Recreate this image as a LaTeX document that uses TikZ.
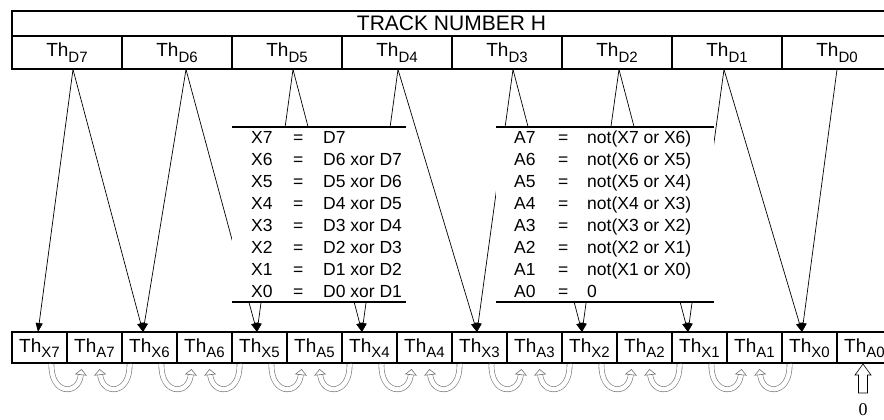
\documentclass[tikz,border=0pt]{standalone}
\usepackage{fontspec}
\setmainfont{Liberation Sans}
\newfontfamily\zeroserif{Liberation Serif}
\usetikzlibrary{arrows.meta}
\newcommand\thsub[1]{\raisebox{-0.28em}{\fontsize{15}{15}\selectfont #1}}
\begin{document}
\begin{tikzpicture}[x=1pt,y=-1pt,
  tcell/.style={draw, line width=1.8pt, inner sep=0pt, minimum width=110pt, minimum height=33pt,
    text height=14pt, text depth=5pt, font=\fontsize{19}{19}\selectfont},
  bcell/.style={draw, line width=1.8pt, inner sep=0pt, minimum width=55pt, minimum height=31pt,
    text height=14pt, text depth=5pt, font=\fontsize{19}{19}\selectfont},
  conn/.style={line width=0.7pt, -{Triangle[length=9pt,width=7pt]}},
  eq/.style={anchor=base west, inner sep=0pt, font=\fontsize{17.5}{17.5}\selectfont},
  tabline/.style={line width=2pt},
  carrow/.style={draw=black!55, line width=0.6pt, double=white, double distance=4.5pt,
    -{Triangle[open,length=6pt,width=12pt]}}]
\useasboundingbox (0,0) rectangle (884,420);

% top box
\node[draw, line width=2.5pt, inner sep=0pt, minimum width=879pt, minimum height=25pt,
  font=\fontsize{21}{21}\selectfont, text height=15pt, text depth=0pt] (title) at (451.5,23.5) {TRACK NUMBER H};
\foreach \n [count=\k from 0] in {7,...,0}
  \node[tcell] (D\n) at ({67+110*\k},52.5) {Th\thsub{D\n}};
\draw[line width=2.5pt] (12,11) rectangle (891,69);

% apexes and tips
\foreach \n/\x in {7/73,6/186,5/293,4/398,3/513,2/619,1/724,0/837}
  \coordinate (a\n) at (\x,69.5);
\foreach \n/\x in {7/38,6/143,5/257,4/362,3/477,2/582,1/688,0/802}
  \coordinate (t\n) at (\x,332);

% connectors
\draw[conn] (a7) -- (t7);
\draw[conn] (a7) -- (t6);
\draw[conn] (a6) -- (t6);
\draw[conn] (a6) -- (t5);
\draw[conn] (a5) -- (t5);
\draw[conn] (a5) -- (t4);
\draw[conn] (a4) -- (t4);
\draw[conn] (a4) -- (t3);
\draw[conn] (a3) -- (t3);
\draw[conn] (a3) -- (t2);
\draw[conn] (a2) -- (t2);
\draw[conn] (a2) -- (t1);
\draw[conn] (a1) -- (t1);
\draw[conn] (a1) -- (t0);
\draw[conn] (a0) -- (t0);

% tables
\fill[white] (232,127) rectangle (406,302);
\fill[white] (496,127) rectangle (714,302);
\draw[tabline] (232,127) -- (406,127);
\draw[tabline] (232,302) -- (406,302);
\draw[tabline] (496,127) -- (714,127);
\draw[tabline] (496,302) -- (714,302);

\foreach \n/\r/\y in {7/D7/143, 6/D6 xor D7/165, 5/D5 xor D6/187, 4/D4 xor D5/209,
   3/D3 xor D4/231, 2/D2 xor D3/253, 1/D1 xor D2/275, 0/D0 xor D1/297}{
  \node[eq] (xl\n) at (251,\y) {X\n};
  \node[eq] (xe\n) at (293,\y) {=};
  \node[eq] (xr\n) at (323,\y) {\r};
}
\foreach \n/\r/\y in {7/not(X7 or X6)/143, 6/not(X6 or X5)/165, 5/not(X5 or X4)/187, 4/not(X4 or X3)/209,
   3/not(X3 or X2)/231, 2/not(X2 or X1)/253, 1/not(X1 or X0)/275, 0/0/297}{
  \node[eq] (al\n) at (514,\y) {A\n};
  \node[eq] (ae\n) at (558,\y) {=};
  \node[eq] (ar\n) at (587,\y) {\r};
}

% bottom row
\foreach \n [count=\k from 0] in {7,...,0}{
  \node[bcell] (X\n) at ({39.5+110*\k},347.5) {Th\thsub{X\n}};
  \node[bcell] (A\n) at ({94.5+110*\k},347.5) {Th\thsub{A\n}};
}
\draw[line width=2.5pt] (12,332) rectangle (891,363);

% curved arrows
\foreach \n [count=\k from 0] in {7,...,1}{
  \pgfmathsetmacro\g{90.5+110*\k}
  \draw[carrow] (\g-39,364) .. controls (\g-40,395) and (\g-12,396) .. (\g-9,369);
  \draw[carrow] (\g+39,364) .. controls (\g+40,395) and (\g+12,396) .. (\g+9,369);
}

% zero input
\coordinate (zt) at (863,364);
\draw[line width=0.6pt] (zt) -- (871,375) -- (867.5,375) -- (867.5,393) -- (858.5,393) -- (858.5,375) -- (855,375) -- cycle;
\node[font=\zeroserif\fontsize{18}{18}\selectfont, anchor=base, inner sep=0pt] (zero) at (863,415) {0};
\end{tikzpicture}
\end{document}
